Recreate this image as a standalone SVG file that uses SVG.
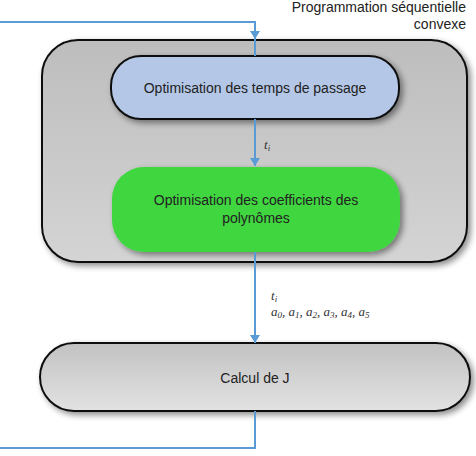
<svg xmlns="http://www.w3.org/2000/svg" width="476" height="456" viewBox="0 0 476 456">
<defs>
<filter id="sh" x="-10%" y="-20%" width="125%" height="150%">
<feGaussianBlur in="SourceAlpha" stdDeviation="3"/>
<feOffset dx="3" dy="3" result="b"/>
<feComponentTransfer><feFuncA type="linear" slope="0.45"/></feComponentTransfer>
<feMerge><feMergeNode/><feMergeNode in="SourceGraphic"/></feMerge>
</filter>
<linearGradient id="gOuter" x1="0" y1="0" x2="0" y2="1">
<stop offset="0" stop-color="#bdbdbd"/><stop offset="1" stop-color="#d4d4d4"/>
</linearGradient>
<linearGradient id="gCalc" x1="0" y1="0" x2="0" y2="1">
<stop offset="0" stop-color="#c2c2c2"/><stop offset="1" stop-color="#e2e2e2"/>
</linearGradient>
<marker id="arr" markerWidth="10" markerHeight="10" refX="8" refY="5" orient="auto" markerUnits="userSpaceOnUse">
<path d="M0,0 L8,5 L0,10 Z" fill="#5b9bd5"/>
</marker>
</defs>
<style>
.lbl{font-family:"Liberation Sans",Arial,sans-serif;font-size:14px;fill:#222;text-anchor:middle}
.r{text-anchor:end}
.m{font-family:"Liberation Serif","Times New Roman",serif;font-style:italic;font-size:13px;fill:#333}
.sub{font-size:9px}
.ln{fill:none;stroke:#5b9bd5;stroke-width:2}
</style>
<g id="outer">
<rect x="42" y="40" width="425" height="222" rx="36" fill="url(#gOuter)" stroke="#111" stroke-width="2" filter="url(#sh)"/>
<text class="lbl r" x="466" y="12">Programmation séquentielle</text>
<text class="lbl r" x="466" y="29">convexe</text>
</g>
<g id="temps">
<rect x="111" y="56" width="288" height="63" rx="30" fill="#b4c7e7" stroke="#111" stroke-width="2" filter="url(#sh)"/>
<text class="lbl" x="255" y="93">Optimisation des temps de passage</text>
</g>
<g id="coef">
<rect x="112" y="167" width="288" height="85" rx="32" fill="#3fd63f" filter="url(#sh)"/>
<text class="lbl" x="256" y="205">Optimisation des coefficients des</text>
<text class="lbl" x="256" y="223">polynômes</text>
</g>
<g id="calcul">
<rect x="40" y="343" width="430" height="68" rx="34" fill="url(#gCalc)" stroke="#111" stroke-width="2" filter="url(#sh)"/>
<text class="lbl" x="255" y="383">Calcul de J</text>
</g>
<g id="connectors">
<path class="ln" d="M0,22 H255 V39" marker-end="url(#arr)"/>
<path class="ln" d="M255,30 V56"/>
<path class="ln" d="M255,119 V166" marker-end="url(#arr)"/>
<path class="ln" d="M255,252 V343" marker-end="url(#arr)"/>
<path class="ln" d="M255,411 V448 H0"/>
<text class="m" x="264" y="149">t<tspan class="sub" dy="2">i</tspan></text>
<text class="m" x="271" y="300">t<tspan class="sub" dy="2">i</tspan></text>
<text class="m" x="271" y="316">a<tspan class="sub" dy="2">0</tspan><tspan dy="-2">, a</tspan><tspan class="sub" dy="2">1</tspan><tspan dy="-2">, a</tspan><tspan class="sub" dy="2">2</tspan><tspan dy="-2">, a</tspan><tspan class="sub" dy="2">3</tspan><tspan dy="-2">, a</tspan><tspan class="sub" dy="2">4</tspan><tspan dy="-2">, a</tspan><tspan class="sub" dy="2">5</tspan></text>
</g>
</svg>
